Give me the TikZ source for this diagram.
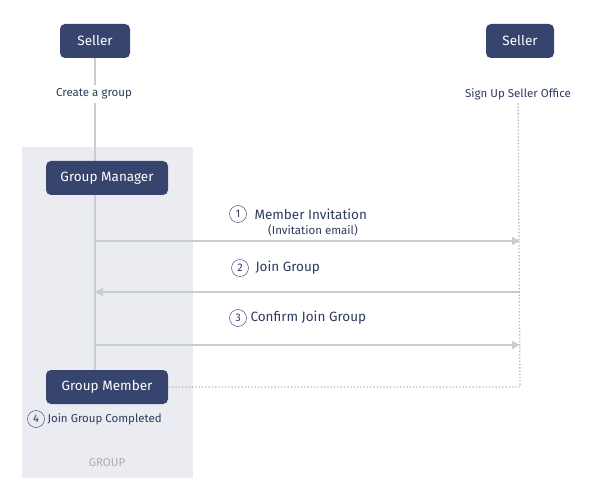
\documentclass[tikz,border=0pt]{standalone}
\usepackage{fontspec}
\setmainfont{Fira Sans}
\usetikzlibrary{arrows.meta}
\definecolor{navy}{HTML}{37446D}
\definecolor{lineg}{HTML}{C9CDD2}
\definecolor{panel}{HTML}{EBECF1}
\definecolor{textn}{HTML}{2E3A60}
\tikzset{
  box/.style={draw=none, fill=navy, rounded corners=5pt, text=white, minimum height=34pt, font=\fontsize{13.5}{15}\selectfont},
  small/.style={text=textn, font=\fontsize{11.5}{13}\selectfont},
  lbl/.style={text=textn, font=\fontsize{13.5}{15}\selectfont},
  num/.style={circle, draw=textn, thin, inner sep=0pt, minimum size=17pt, text=textn, font=\fontsize{11}{13}\selectfont},
  flow/.style={lineg, line width=1.6pt, -{Triangle[length=8pt,width=8pt]}},
  dots/.style={lineg!70!gray, line width=1.3pt, dotted}
}
\begin{document}
\begin{tikzpicture}[x=1pt, y=-1pt]
\useasboundingbox (0,0) rectangle (600,500);
% Gruppe
\fill[panel] (22,147) rectangle (193,478);
\node[text=lineg!60!gray, font=\fontsize{11.5}{13}\selectfont] (grp) at (107,463) {GROUP};

% Linien
\coordinate (l1) at (95,241);
\coordinate (l2) at (95,292);
\coordinate (l3) at (95,345);
\coordinate (r1) at (520,241);
\coordinate (r2) at (520,292);
\coordinate (r3) at (520,345);
\coordinate (rc) at (520,387);
\draw[lineg, line width=1.6pt] (95,58) -- (95,370);

% Knoten
\node[box, minimum width=70pt] (sl) at (95,41) {Seller};
\node[box, minimum width=68pt] (sr) at (520,41) {Seller};
\node[small, fill=white] (cg) at (94,94) {Create a group};
\node[small] (su) at (518,94) {Sign Up Seller Office};
\node[box, minimum width=122pt] (gm) at (107,178) {Group Manager};
\node[box, minimum width=122pt] (mem) at (107,387) {Group Member};

% Pfeile
\draw[flow] (l1) -- (r1);
\draw[flow] (r2) -- (l2);
\draw[flow] (l3) -- (r3);
\draw[dots] (su) -- (rc) -- (mem);

% Beschriftung
\node[num] (n1) at (238,214) {1};
\node[lbl, anchor=west] (t1) at (251,214) {Member Invitation};
\node[small] (t1b) at (313,230) {(Invitation email)};
\node[num] (n2) at (240,268) {2};
\node[lbl, anchor=west] (t2) at (252,268) {Join Group};
\node[num] (n3) at (238,318) {3};
\node[lbl, anchor=west] (t3) at (247,318) {Confirm Join Group};
\node[num] (n4) at (36,419) {4};
\node[small, anchor=west] (t4) at (44,419) {Join Group Completed};
\end{tikzpicture}
\end{document}
